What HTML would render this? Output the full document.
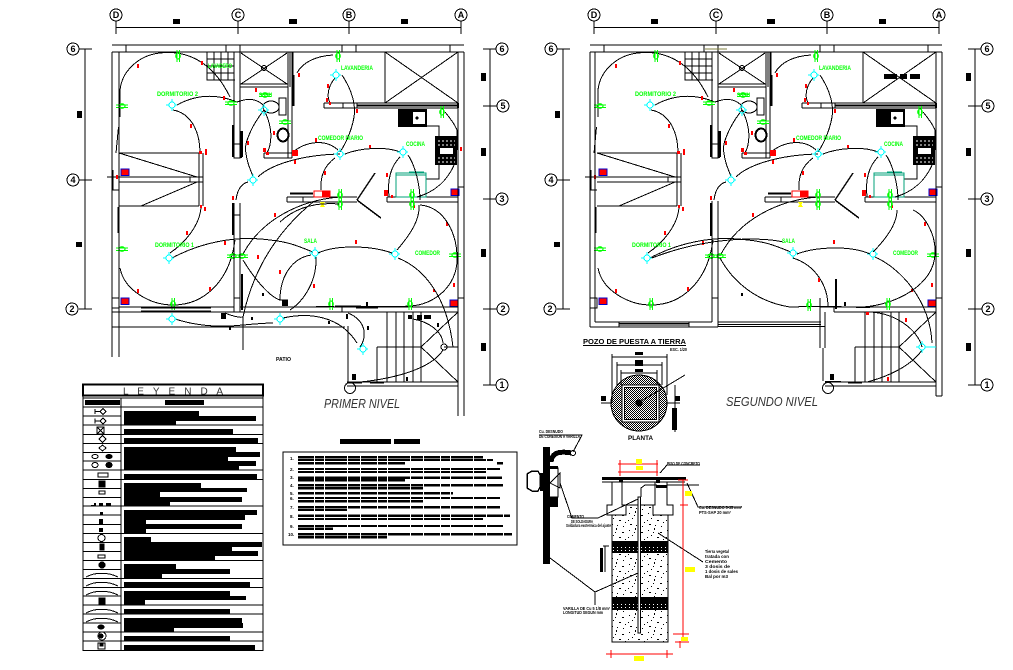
<!DOCTYPE html>
<html lang="es">
<head>
<meta charset="utf-8">
<title>Planos eléctricos</title>
<style>
html,body{margin:0;padding:0;background:#fff}
svg{display:block}
text{font-family:"Liberation Sans",sans-serif}
.g{fill:#00ff00;font-size:6px;font-weight:bold}
.t{fill:#000;font-size:4.2px;font-weight:bold}
.w{fill:none;stroke:#000;stroke-width:1}
.ax{fill:#000;font-size:9px;font-weight:bold;text-anchor:middle}
</style>
</head>
<body>
<svg xmlns="http://www.w3.org/2000/svg" width="1013" height="670" viewBox="0 0 1013 670" shape-rendering="crispEdges">
<defs>
<pattern id="st" width="19" height="17" patternUnits="userSpaceOnUse">
<path d="M2 3h1v1h-1zM8 1h1v2h-1zM14 5h2v1h-2zM5 8h1v1h-1zM11 10h2v1h-2zM17 12h1v1h-1zM3 14h2v1h-2zM9 15h1v1h-1zM15 16h1v1h-1zM7 5h1v1h-1zM1 10h1v1h-1z" fill="#000"/>
</pattern>
<pattern id="sd" width="4" height="3" patternUnits="userSpaceOnUse">
<rect width="4" height="3" fill="#000"/><path d="M1 1h1v1h-1z" fill="#fff"/>
</pattern>
<pattern id="ht" width="2" height="2" patternUnits="userSpaceOnUse">
<rect width="1" height="1" fill="#000"/><rect x="1" y="1" width="1" height="1" fill="#000"/>
</pattern>
<g id="L"><circle r="3" fill="none" stroke="#00ffff"/><path d="M-6 0H-3M0 -6V-3M3 0H5M0 3V6" stroke="#00ffff" fill="none"/></g>
<g id="S"><ellipse rx="2.2" ry="3" fill="none" stroke="#00ff00" stroke-width="1.2"/><path d="M-1.2 -6V6M1.4 -6V6" stroke="#00ff00" fill="none" stroke-width="1.1"/></g>
<g id="P"><rect x="0" y="0" width="8" height="6.5" fill="#ff0000" stroke="#0000cc" stroke-width="1.2"/></g>

<g id="dimAxes" fill="none" stroke="#000">
<path d="M116 27.5H461M116 21V34M238 21V34M349 21V34M461 21V34"/>
<circle cx="116" cy="15" r="6" fill="#fff"/><circle cx="238" cy="15" r="6" fill="#fff"/><circle cx="349" cy="15" r="6" fill="#fff"/><circle cx="461" cy="15" r="6" fill="#fff"/>
<path d="M85 49V309M79 49H92M79 180H92M79 309H92"/>
<circle cx="73" cy="49" r="6" fill="#fff"/><circle cx="73" cy="180" r="6" fill="#fff"/><circle cx="72" cy="309" r="6" fill="#fff"/>
<path fill="#000" stroke="none" d="M173 19h7v5h-7zM289 19h8v5h-8zM401 19h7v5h-7zM77 111h5v7h-5zM76 242h6v5h-6z"/>
</g>
<g id="dimR" fill="none" stroke="#000">
<path d="M490 49V385M483 49H497M483 106H497M483 199H497M483 309H497M483 385H497"/>
<circle cx="502" cy="49" r="6" fill="#fff"/><circle cx="503" cy="106" r="6" fill="#fff"/><circle cx="502" cy="199" r="6" fill="#fff"/><circle cx="503" cy="309" r="6" fill="#fff"/><circle cx="502" cy="385" r="6" fill="#fff"/>
<path fill="#000" stroke="none" d="M481 73h5v8h-5zM481 148h5v8h-5zM481 249h5v8h-5zM481 343h5v8h-5z"/>
</g>

<g id="common">
<g class="w">
<path d="M112 45H464M112 52H464M126 45V52M226 45V52M240 45V52M342 45V52M356 45V52M450 45V52"/>
<path d="M234 52V158H240V52M234 144H240"/>
<path d="M240 84H288M240 87H288M241 53L287 84M287 53L241 84"/>
<circle cx="264" cy="68" r="2.5"/>
<path d="M288 52V87M290 52V87M292 52V158M288 87V158M264 153H292M264 158H292M264 153V158"/>
<path d="M324 103H458M324 108H458M343 103V108M357 103V108M324 103V108"/>
<path d="M385 52V103M385 52L458 103M458 52L385 103"/>
<path d="M119 153H199M199 153V206M203 153V206M119 177H203M119 182H203M190 177V182M119 153L197 177M119 206H199M141 206L197 182"/>
<path d="M207 52V80H235M214 52V80M221 52V80M228 52V80M207 59H234M207 66H234M207 73H234"/>
<path d="M287 197H357M287 202H357M287 197V202M303 197V202M387 197H458M387 202H458M387 197V202"/>
<path d="M458 187H464M427 126H439V179H426"/>
</g>
<path d="M292.5 52V75M241 131V158M232.5 125V157" stroke="#000" stroke-width="1.5" fill="none"/>
<path d="M293 75V106" stroke="#000" stroke-width="2.5" fill="none"/>
<path d="M242 131V157" stroke="#000" stroke-width="2" fill="none"/>
<path d="M290 193.5H313" stroke="#000" stroke-width="2" fill="none"/>
<path d="M357 200L375 173M357 200L381 218" stroke="#000" stroke-width="1.5" fill="none"/>
<path d="M458 103V108M357 105.5H458" stroke="#000" stroke-width="2" fill="none"/>
<!-- sink -->
<rect x="398" y="109" width="29" height="18" fill="#000"/><rect x="413" y="112" width="12" height="12" fill="#fff"/><circle cx="417" cy="118" r="1.5" fill="#000"/>
<!-- stove -->
<rect x="435" y="136" width="22" height="29" fill="#000"/><rect x="440" y="148" width="13" height="6" fill="#fff"/>
<path d="M438 141H455M438 145H455M438 158H455M438 162H455" stroke="#fff" stroke-dasharray="2 2" fill="none"/>
<!-- teal counter -->
<path d="M396 173H426V197H396ZM396 175H426M409 172H424" fill="none" stroke="#00a07a" stroke-width="1.2"/>
<!-- toilet, basin -->
<g fill="none" stroke="#000"><ellipse cx="271" cy="107" rx="8" ry="6"/><rect x="279" y="98" width="7" height="17" stroke-width="1.3"/><ellipse cx="283" cy="135" rx="5.5" ry="6.5" stroke-width="2"/></g>
<!-- left wall box -->
<path d="M113 170V190H119M107 177H119" fill="none" stroke="#000"/>
<rect x="112" y="298" width="7" height="10" fill="none" stroke="#000"/>
<!-- wires -->
<g class="w">
<path d="M120 90C122 70 140 55 160 53C185 50 212 60 230 97"/>
<path d="M120 90V117M118.5 127L116 153M118 207V233M120 268C124 290 150 305 173 305C205 305 230 280 235 240"/>
<path d="M177 105C195 95 215 93 237 102C245 99 255 97 263 105"/>
<path d="M173 110C190 113 200 130 200 153"/>
<path d="M264 110C252 125 243 145 246 153C247 165 252 172 253 177"/>
<path d="M264 110C272 125 273 142 267 153"/>
<path d="M258 177C270 165 300 155 340 154"/>
<path d="M293 152C305 142 325 138 338 150"/>
<path d="M248 182C240 184 237 192 236 200"/>
<path d="M335 158C325 165 320 175 321 190"/>
<path d="M345 154C360 148 385 146 400 152"/>
<path d="M400 157C392 165 387 178 389 197"/>
<path d="M408 155C415 165 420 185 420 200"/>
<path d="M333 55C315 56 302 63 297 73"/>
<path d="M335 78C329 85 326 95 330 103"/>
<path d="M342 75C352 90 356 105 354 117C352 130 345 145 340 152"/>
<path d="M445 112C450 118 455 125 457 130V150M455 163C448 180 435 192 417 197"/>
<path d="M172 258C200 243 235 235 270 240C290 242 300 247 313 252"/>
<path d="M170 253C185 243 200 225 201 207"/>
<path d="M340 197C300 200 260 220 242 256"/>
</g>
<g fill="#ff0000">
<path d="M137 64h2v4h-2zM201 61h2v4h-2zM223 96h2v4h-2zM190 124h2v4h-2zM199 151h3v3h-3zM205 149h2v6h-2zM116 175h2v4h-2zM255 88h2v4h-2zM273 131h2v4h-2zM247 141h2v4h-2zM263 148h3v4h-3zM266 152h3v3h-3zM298 73h2v4h-2zM292 150h6v6h-6zM294 160h2v4h-2zM232 196h2v4h-2zM327 84h2v4h-2zM326 98h2v4h-2zM329 102h2v3h-2zM356 109h2v4h-2zM315 138h2v4h-2zM324 171h2v4h-2zM369 145h2v3h-2zM386 173h2v4h-2zM384 190h4v6h-4zM391 195h2v3h-2zM200 205h2v3h-2zM204 207h2v4h-2zM186 231h2v4h-2zM224 241h2v4h-2zM274 213h2v4h-2zM137 289h2v4h-2zM209 287h2v4h-2zM413 205h2v3h-2zM446 222h2v4h-2zM355 240h2v4h-2zM433 289h2v3h-2zM453 283h2v4h-2z"/>
<path d="M322 191h8v6h-8z"/>
</g>
<rect x="314" y="191" width="16" height="6" fill="none" stroke="#ff0000"/>
<path d="M320 202h5l-1.5 2.5 1.5 2.5h-5l1.5-2.5z" fill="#ffff00"/>
<!-- panels -->
<use href="#P" x="121" y="169"/><use href="#P" x="121" y="298"/><use href="#P" x="451" y="189"/><use href="#P" x="450" y="300"/>
<!-- lights -->
<use href="#L" x="172" y="105"/><use href="#L" x="264" y="110"/><use href="#L" x="253" y="180"/><use href="#L" x="336" y="75"/><use href="#L" x="340" y="154"/><use href="#L" x="403" y="152"/><use href="#L" x="169" y="258"/><use href="#L" x="315" y="253"/><use href="#L" x="395" y="254"/>
<!-- switches -->
<use href="#S" transform="translate(178,56)"/><use href="#S" transform="translate(338,56)"/><use href="#S" transform="translate(442,112)"/><use href="#S" transform="translate(340,195)"/><use href="#S" transform="translate(412,195)"/><use href="#S" transform="translate(340,204)"/><use href="#S" transform="translate(412,204)"/>
<use href="#S" transform="translate(122,106) rotate(90)"/><use href="#S" transform="translate(231,103) rotate(90)"/><use href="#S" transform="translate(285,122) rotate(90)"/><use href="#S" transform="translate(122,249) rotate(90)"/><use href="#S" transform="translate(233,256) rotate(90)"/><use href="#S" transform="translate(242,256) rotate(90)"/><use href="#S" transform="translate(173,304)"/><use href="#S" transform="translate(455,255) rotate(90)"/>
<use href="#S" transform="translate(265,95) rotate(90)"/>
</g>
</defs>

<rect width="1013" height="670" fill="#fff"/>

<!-- PLAN 1 -->
<use href="#dimAxes"/><use href="#dimR"/><use href="#common"/>
<g class="ax">
<text x="116" y="18">D</text><text x="238" y="18">C</text><text x="349" y="18">B</text><text x="461" y="18">A</text>
<text x="73" y="52">6</text><text x="73" y="183">4</text><text x="72" y="312">2</text>
<text x="502" y="52">6</text><text x="503" y="109">5</text><text x="502" y="202">3</text><text x="503" y="312">2</text><text x="502" y="388">1</text>
</g>
<g class="w">
<path d="M112 52V357M119 52V357M458 52V416M464 52V416M458 298H464"/>
<path d="M234 203V312M240 203V312M234 215H240M234 298H240"/>
<path d="M119 307H234M240 307H458M112 312H458M112 327H345M141 308H211M141 311H211"/>
<path d="M348 326V382M347 382H458M347 386H458"/>
<path d="M387 312V382M396 312V382M404 312V382M413 312V382M421 312V382M377 347H421M377 347V382M421 347L458 312M421 347L458 382M444 347H458"/>
<circle cx="350" cy="388" r="5.5"/>
<circle cx="444" cy="347" r="3"/>
<path d="M342 307V312M343 307H345"/>
<path d="M243 260C255 280 270 297 280 300M280 300H288"/>
<path d="M311 255C293 258 280 275 280 300"/>
<path d="M316 257C317 280 305 300 290 310"/>
<path d="M339 204C315 202 295 208 280 222"/>
<path d="M313 202C285 225 255 260 243 317V350"/>
<path d="M392 253C370 245 335 245 318 253"/>
<path d="M397 250C410 235 420 220 419 205"/>
<path d="M398 258C423 268 447 295 453 347"/>
<path d="M420 205C445 207 458 235 457 260C457 285 435 305 410 306C380 308 345 305 335 306"/>
<path d="M175 319C200 327 225 327 243 325C255 324 265 323 273 323M225 313C232 316 240 318 243 317"/>
<path d="M283 318C310 312 340 316 357 343"/>
<path d="M348 313C365 320 368 335 360 347"/>
<path d="M413 319C430 322 442 332 443 343M443 350C432 368 395 380 348 383"/>
</g>
<use href="#L" x="172" y="319"/><use href="#L" x="280" y="319"/><use href="#L" x="363" y="349"/>
<use href="#S" transform="translate(331,304)"/><use href="#S" transform="translate(410,304)"/>
<path fill="#000" d="M282 300h6v6h-6zM408 315h4v4h-4zM417 315h5v5h-5zM424 315h7v4h-7zM352 374h4v6h-4zM346 314h2v5h-2zM366 302h2v4h-2zM328 321h2v3h-2zM437 323h2v4h-2zM406 377h2v4h-2zM367 326h2v4h-2zM221 313h5v6h-5zM262 293h2v3h-2zM229 327h2v3h-2zM251 317h2v3h-2zM241 274h2v36h-2zM232 203h2v32h-2zM356 307h22v1.5h-22zM316 306h18v1h-18zM348 382h14v1.5h-14zM370 382h14v1.5h-14z"/>
<path fill="#ff0000" d="M257 255h2v4h-2zM279 270h2v4h-2zM313 284h2v4h-2zM460 147h2v4h-2z"/>
<text class="g" x="157" y="96" textLength="41" lengthAdjust="spacingAndGlyphs">DORMITORIO 2</text>
<text class="g" x="155" y="247" textLength="39" lengthAdjust="spacingAndGlyphs">DORMITORIO 1</text>
<text class="g" x="341" y="70" textLength="32" lengthAdjust="spacingAndGlyphs">LAVANDERIA</text>
<text class="g" x="318" y="140" textLength="45" lengthAdjust="spacingAndGlyphs">COMEDOR DIARIO</text>
<text class="g" x="406" y="146" textLength="19" lengthAdjust="spacingAndGlyphs">COCINA</text>
<text class="g" x="304" y="243" textLength="13" lengthAdjust="spacingAndGlyphs">SALA</text>
<text class="g" x="415" y="255" textLength="25" lengthAdjust="spacingAndGlyphs">COMEDOR</text>
<text class="g" x="259" y="97" textLength="13" lengthAdjust="spacingAndGlyphs">SSHH</text>
<text class="g" x="208" y="68" textLength="24" lengthAdjust="spacingAndGlyphs">LAVADERO</text>
<text x="276" y="361" font-size="5" font-weight="bold" fill="#000" textLength="15" lengthAdjust="spacingAndGlyphs">PATIO</text>
<text x="324" y="408" font-size="12.5" font-style="italic" fill="#333" textLength="76" lengthAdjust="spacingAndGlyphs">PRIMER NIVEL</text>

<!-- PLAN 2 -->
<use href="#dimAxes" transform="translate(478,0)"/>
<use href="#dimR" transform="translate(485,0)"/>
<use href="#common" transform="translate(478,0)"/>
<g class="ax">
<text x="594" y="18">D</text><text x="716" y="18">C</text><text x="827" y="18">B</text><text x="939" y="18">A</text>
<text x="551" y="52">6</text><text x="551" y="183">4</text><text x="550" y="312">2</text>
<text x="987" y="52">6</text><text x="988" y="109">5</text><text x="987" y="202">3</text><text x="988" y="312">2</text><text x="987" y="388">1</text>
</g>
<g class="w">
<path d="M590 52V327M595 52V322M936 52V396M942 52V396M936 298H942M936 396H942"/>
<path d="M712 201V322M718 201V327M712 298H718"/>
<path d="M595 322H712M590 327H718M619 322V327M689 322V327M619 323.5H689M619 325H689"/>
<path d="M718 322H821M718 324.5H821M718 326.5H825"/>
<path d="M820 298V307H834V312M820 307V348M825 312V348M823 348V381"/>
<path d="M821 307H834M834 307H936M834 312H936"/>
<path d="M825 382H936M825 386H936"/>
<path d="M865 312V382M874 312V382M882 312V382M891 312V382M899 312V382M855 347H899M855 347V382M899 347L936 312M899 347L936 382"/>
<circle cx="828" cy="388" r="5.5"/>
<path d="M720 258C733 282 757 302 790 307C815 306 850 307 863 307C895 305 935 285 935 253C936 235 925 215 913 210"/>
<path d="M652 258C680 247 713 240 747 239C765 239 775 240 783 242"/>
<path d="M797 254C815 247 850 245 870 254"/>
<path d="M793 258C815 265 828 285 828 307"/>
<path d="M873 252C885 240 897 225 897 210"/>
<path d="M875 257C900 268 930 300 932 343"/>
<path d="M867 312C895 312 918 330 922 347"/>
<path d="M922 350C912 365 890 376 867 382"/>
</g>
<path d="M925 347H936" stroke="#00ffff" fill="none"/>
<use href="#L" x="922" y="347"/>
<use href="#S" transform="translate(809,305)"/><use href="#S" transform="translate(888,304)"/><use href="#S" transform="translate(651,304)"/>
<path d="M705 49H727" stroke="#808040" fill="none"/>
<path fill="#000" d="M884 74h13v5h-13zM900 74h7v5h-7zM910 74h10v5h-10zM830 374h4v6h-4zM835 279h2v30h-2zM844 302h2v4h-2zM710 203h2v33h-2zM741 293h2v3h-2zM825 381h16v1.5h-16zM848 382h14v1.5h-14zM856 307h14v1h-14z"/>
<path fill="#ff0000" d="M818 278h2v4h-2zM866 312h3v3h-3zM905 318h2v4h-2zM887 377h2v4h-2zM752 213h2v4h-2z"/>
<text class="g" x="635" y="96" textLength="41" lengthAdjust="spacingAndGlyphs">DORMITORIO 2</text>
<text class="g" x="632" y="247" textLength="39" lengthAdjust="spacingAndGlyphs">DORMITORIO 1</text>
<text class="g" x="819" y="70" textLength="32" lengthAdjust="spacingAndGlyphs">LAVANDERIA</text>
<text class="g" x="796" y="140" textLength="45" lengthAdjust="spacingAndGlyphs">COMEDOR DIARIO</text>
<text class="g" x="884" y="146" textLength="19" lengthAdjust="spacingAndGlyphs">COCINA</text>
<text class="g" x="782" y="243" textLength="13" lengthAdjust="spacingAndGlyphs">SALA</text>
<text class="g" x="893" y="255" textLength="25" lengthAdjust="spacingAndGlyphs">COMEDOR</text>
<text class="g" x="737" y="97" textLength="13" lengthAdjust="spacingAndGlyphs">SSHH</text>
<text x="726" y="406" font-size="12.5" font-style="italic" fill="#333" textLength="92" lengthAdjust="spacingAndGlyphs">SEGUNDO NIVEL</text>

<!-- LEGEND -->
<rect x="83" y="384.5" width="180" height="266" fill="none" stroke="#000" stroke-width="1.2"/>
<rect x="83" y="384.5" width="180" height="11" fill="none" stroke="#000" stroke-width="2"/>
<text x="123" y="394.5" font-size="10" fill="#333" textLength="100">L E Y E N D A</text>
<path d="M121 398V650M83 398H263" stroke="#000" fill="none"/>
<path d="M85 400h35v5h-35zM165 400h39v5h-39z" fill="#000"/>
<path stroke="#000" fill="none" d="M83 407H263M83 416H121M83 425H263M83 434.5H263M83 443.5H263M83 452.5H121M83 461H121M83 470H263M83 479.5H263M83 488.5H121M83 497.5H121M83 506H263M83 515H121M83 524.5H121M83 533.5H263M83 542.5H121M83 551.5H121M83 560.5H263M83 569.5H121M83 578.5H263M83 587.5H263M83 596H121M83 605H263M83 614H263M83 623H121M83 632H263M83 641H263"/>
<path fill="#000" d="M124 411H199V416H124zM124 416H256V421H124zM124 421H176V425H124zM124 429H233V434H124zM124 438H258V443H124zM124 447H236V452H124zM124 452H260V457H124zM124 457H228V461H124zM124 461H256V466H124zM124 466H239V470H124zM124 474H257V479H124zM124 483H201V488H124zM124 488H247V492H124zM124 492H160V497H124zM124 497H242V502H124zM124 502H170V506H124zM124 510H257V515H124zM124 515H245V520H124zM124 520H146V524H124zM124 524H242V529H124zM124 529H146V533H124zM124 537H151V542H124zM124 542H262V547H124zM124 547H232V551H124zM124 551H258V556H124zM124 556H215V560H124zM124 564H176V569H124zM124 569H230V574H124zM124 574H162V578H124zM124 582H250V587H124zM124 591H230V596H124zM124 596H246V600H124zM124 600H145V605H124zM124 609H230V614H124zM124 618H242V623H124zM124 623H243V628H124zM124 628H174V632H124zM124 636H230V641H124zM124 645H255V650H124z"/>
<g fill="none" stroke="#000">
<path d="M95 411.5H100M95 409V414M100 411.5L103 408.5L106 411.5L103 414.5ZM95 421H100M95 418.5V423.5M100 421L103 418L106 421L103 424Z"/>
<rect x="97" y="427" width="7" height="7"/><path d="M97 427L104 434M104 427L97 434"/>
<path d="M102.5 435.5L106 439L102.5 442.5L99 439ZM102.5 445L106 448L102.5 451L99 448Z"/>
<ellipse cx="95" cy="456.5" rx="3" ry="2"/><ellipse cx="109" cy="456.5" rx="3" ry="2" fill="#000"/>
<ellipse cx="95" cy="465" rx="3" ry="2.5"/><ellipse cx="109" cy="465" rx="3" ry="2.5" fill="#000"/>
<rect x="98" y="473" width="10" height="4"/>
<rect x="99" y="481" width="6" height="6" fill="#000"/>
<rect x="99" y="491" width="6" height="3"/>
<circle cx="101.5" cy="538" r="3.5"/>
<rect x="100" y="544" width="4" height="6" fill="#000"/>
<rect x="98" y="555" width="7" height="3"/>
<circle cx="102" cy="565" r="3" fill="#000"/>
<path d="M86 577C95 572 108 572 118 577M86 586C95 581 108 581 118 586M86 595C95 590 108 590 118 595M86 613C95 608 108 608 118 613M86 622C95 617 108 617 118 622"/>
<rect x="99" y="598" width="6" height="6" fill="#000"/>
<ellipse cx="101" cy="627" rx="3" ry="2" fill="#000"/>
<circle cx="102" cy="636" r="4"/><circle cx="101" cy="636" r="2" fill="#000"/>
<rect x="98" y="643" width="7" height="6"/><rect x="100" y="643" width="3" height="3" fill="#000"/>
</g>
<path fill="#000" d="M91 505h3v-2h2v3h-5zM99 503h4v3h-4zM106 503h5v3h-5zM100 512h3v3h-3zM99 519h4v5h-4zM99 528h4v4h-4z"/>

<!-- NOTES -->
<path fill="#000" d="M340 439h51v5h-51zM394 439h26v5h-26z"/>
<rect x="283" y="452" width="234" height="93" fill="none" stroke="#000"/>
<g stroke="#000" stroke-width="2.4" fill="none" stroke-dasharray="16 1 9 1 22 1 12 1">
<path d="M298 457.3H483M298 460H493M298 463.3H405M497 463.3H503M298 469H500M298 472H487M298 477.7H502M298 480.3H405M298 485.3H503M298 488.3H423M298 493.3H453M298 498H500M298 501.3H423M298 507.3H500M298 510H347M298 515.7H510M298 519H483M298 526H503M298 528.7H333M298 534.3H512M298 537.3H387"/>
</g>
<g font-size="4.5" font-weight="bold" fill="#000">
<text x="290" y="460">1.</text><text x="290" y="471">2.</text><text x="290" y="479">3.</text><text x="290" y="487">4.</text><text x="290" y="495">5.</text><text x="290" y="500">6.</text><text x="290" y="509">7.</text><text x="290" y="518">8.</text><text x="290" y="528">9.</text><text x="288" y="536">10.</text>
</g>

<!-- POZO PLANTA -->
<text x="583" y="344" font-size="7" font-weight="bold" fill="#000" textLength="103" lengthAdjust="spacingAndGlyphs">POZO DE PUESTA A TIERRA</text>
<path d="M583 345.5H686" stroke="#000" fill="none"/>
<text x="670" y="351" class="t" textLength="17" lengthAdjust="spacingAndGlyphs">ESC. 1/20</text>
<circle cx="639" cy="403" r="28" fill="url(#ht)" stroke="#000"/>
<rect x="622" y="385" width="37" height="37" fill="#fff" stroke="#000"/>
<rect x="624.5" y="387.5" width="32" height="32" fill="url(#ht)" stroke="#000"/>
<circle cx="639" cy="403" r="3.5" fill="#000"/>
<path d="M641 401L660 390L685 375" stroke="#000" fill="none"/>
<g stroke="#000" fill="none">
<path d="M612 357H667M617 365H662M621 373H657M612 354V403M667 354V395M617 362V385M662 362V385M621 370V385M657 370V385"/>
<path d="M601 403H612M666 403H680M675 385V432"/>
</g>
<path fill="#000" d="M635 352h8v3h-8zM635 360h8v6h-8zM635 369h8v3h-8zM601 396h5v5h-5zM675 396h5v5h-5zM672 408h5v22h-5z"/>
<text x="628" y="440" font-size="6" font-weight="bold" fill="#000" textLength="25" lengthAdjust="spacingAndGlyphs">PLANTA</text>

<!-- SECTION -->
<rect x="612" y="505" width="56" height="137" fill="url(#st)" stroke="#000"/>
<rect x="612" y="541" width="56" height="6" fill="#000"/><rect x="612" y="547" width="56" height="6" fill="url(#sd)"/>
<rect x="612" y="597" width="56" height="7" fill="#000"/><rect x="612" y="604" width="56" height="6" fill="url(#sd)"/>
<rect x="638" y="497" width="2.5" height="136" fill="#fff" stroke="#000"/>
<rect x="602" y="477" width="84" height="3" fill="#000"/>
<g fill="#fff" stroke="#000">
<path d="M602 482H622V505H626V515H607V505H612V482Z" stroke-width="1"/>
<path d="M655 482H667V505H673V515H653V505H655Z" stroke-width="1"/>
</g>
<path d="M622 482H655M667 482H685" stroke="#000" fill="none"/>
<path fill="#000" d="M619 477h4v5h-4zM656 477h4v6h-4zM656 485h11v3h-11zM600 548h3v24h-3z"/>
<path fill="none" stroke="#000" d="M641 497V488L645 485H657M667 485H699M605 546V572M603 546H609"/>
<!-- clamp -->
<rect x="543" y="447" width="7" height="117" fill="#000"/>
<path d="M551 462C552 452 560 451 572 453" stroke="#000" stroke-width="5" fill="none"/>
<circle cx="573" cy="453" r="2.5" fill="#fff" stroke="#000"/>
<path d="M527 474L532 471H538L540 475V487L538 491H532L527 488Z" fill="#fff" stroke="#000" stroke-width="1.5"/>
<rect x="540" y="473" width="3" height="18" fill="#000"/>
<rect x="550" y="497" width="8" height="10" fill="#000"/>
<path d="M550 468H558V497H550M550 483L560 473V488Z" fill="#fff" stroke="#000"/>
<rect x="550" y="466" width="8" height="3" fill="#000"/>
<g fill="none" stroke="#000">
<path d="M539 435H582L573 452"/>
<path d="M560 483L572 518H598L638 499"/>
<path d="M550 558L595 592L638 573M595 592V605"/>
<path d="M658 533L703 562"/>
<path d="M687 483L698 507H742"/>
<path d="M660 473L667 465H700"/>
</g>
<g class="t">
<text x="539" y="433" textLength="24" lengthAdjust="spacingAndGlyphs">Cu. DESNUDO</text>
<text x="539" y="438" textLength="41" lengthAdjust="spacingAndGlyphs">DE CONEXION A VARILLA</text>
<text x="567" y="518" textLength="17" lengthAdjust="spacingAndGlyphs">CEMENTO</text>
<text x="571" y="523" textLength="22" lengthAdjust="spacingAndGlyphs">DE SOLDADURA</text>
<text x="566" y="527" textLength="45" lengthAdjust="spacingAndGlyphs">Soldadura exotermica del ajuste</text>
<text x="667" y="465" textLength="33" lengthAdjust="spacingAndGlyphs">PISO DE CONCRETO</text>
<text x="699" y="509" textLength="43" lengthAdjust="spacingAndGlyphs">Cu. DESNUDO 5-35 mm²</text>
<text x="699" y="514" textLength="32" lengthAdjust="spacingAndGlyphs">PTS-SAP 20 mm²</text>
<text x="705" y="553" textLength="24" lengthAdjust="spacingAndGlyphs">Tierra vegetal</text>
<text x="705" y="558" textLength="24" lengthAdjust="spacingAndGlyphs">tratada con</text>
<text x="705" y="563" textLength="22" lengthAdjust="spacingAndGlyphs">Cemento</text>
<text x="705" y="568" textLength="25" lengthAdjust="spacingAndGlyphs">3 dosis de</text>
<text x="705" y="573" textLength="33" lengthAdjust="spacingAndGlyphs">1 dosis de sales</text>
<text x="705" y="578" textLength="23" lengthAdjust="spacingAndGlyphs">Bal por m3</text>
<text x="563" y="610" textLength="47" lengthAdjust="spacingAndGlyphs">VARILLA DE Cu 5 1/8 mm²</text>
<text x="563" y="614" textLength="40" lengthAdjust="spacingAndGlyphs">LONGITUD SEGUN mm</text>
</g>
<!-- red dims -->
<g stroke="#ff0000" fill="none">
<path d="M618 464H658M618 472H658M620 460V476M657 460V476"/>
<path d="M683 480V637M678 480H688M680 505H688M673 634H689M675 642H689M680 641V648"/>
<path d="M606 654H673M611 650V658M667 650V658"/>
</g>
<path fill="#ffff00" d="M636 459h6v5h-6zM636 466h7v4h-7zM685 491h7v5h-7zM685 567h10v5h-10zM681 637h7v4h-7zM634 656h10v5h-10z"/>
</svg>
</body>
</html>
